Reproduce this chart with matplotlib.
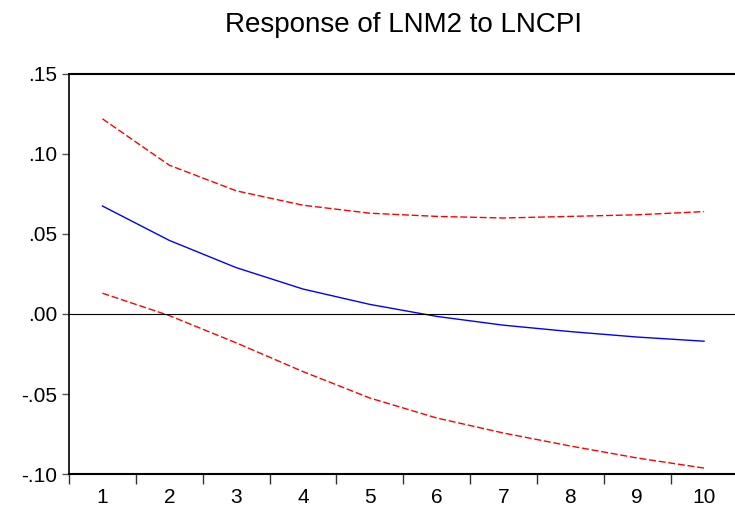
import matplotlib.pyplot as plt
import numpy as np

plt.rcParams['font.family'] = ['Liberation Sans', 'DejaVu Sans']

periods = [1, 2, 3, 4, 5, 6, 7, 8, 9, 10]
response = [0.0675, 0.046, 0.029, 0.0156, 0.006, -0.0015, -0.007, -0.011, -0.0144, -0.017]
upper = [0.122, 0.093, 0.077, 0.068, 0.063, 0.061, 0.060, 0.061, 0.062, 0.064]
lower = [0.013, -0.001, -0.018, -0.036, -0.0525, -0.065, -0.0744, -0.0825, -0.090, -0.0963]
ytick_vals = [-0.10, -0.05, 0.00, 0.05, 0.10, 0.15]
ytick_labels = ['-.10', '-.05', '.00', '.05', '.10', '.15']

fig = plt.figure(figsize=(7.35, 5.11), dpi=100)
ax = fig.add_axes([0.0939, 0.0724, 0.9095, 0.7828])

ax.plot(periods, response, color='blue', lw=1)
ax.plot(periods, upper, color='red', lw=1, ls=(0, (5, 2)))
ax.plot(periods, lower, color='red', lw=1, ls=(0, (5, 2)))
ax.axhline(0, color='black', lw=0.8)

ax.set_xlim(0.5, 10.5)
ax.set_ylim(-0.10, 0.15)
ax.set_xticks(periods)
ax.set_xticks(np.arange(0.5, 10.5, 1.0), minor=True)
ax.tick_params(axis='x', which='major', length=0, labelsize=15, pad=10)
ax.tick_params(axis='x', which='minor', length=7, width=1, direction='out', color='#333333')
ax.set_yticks(ytick_vals)
ax.set_yticklabels(ytick_labels)
ax.tick_params(axis='y', length=5, width=1, direction='out', labelsize=15, color='#555555')

for s in ['top', 'bottom']:
    ax.spines[s].set_linewidth(1.5)
ax.spines['right'].set_visible(False)
ax.spines['left'].set_linewidth(1.2)

ax.set_title('Response of LNM2 to LNCPI', fontsize=20, pad=30)

fig.savefig('out.png', dpi=100)
